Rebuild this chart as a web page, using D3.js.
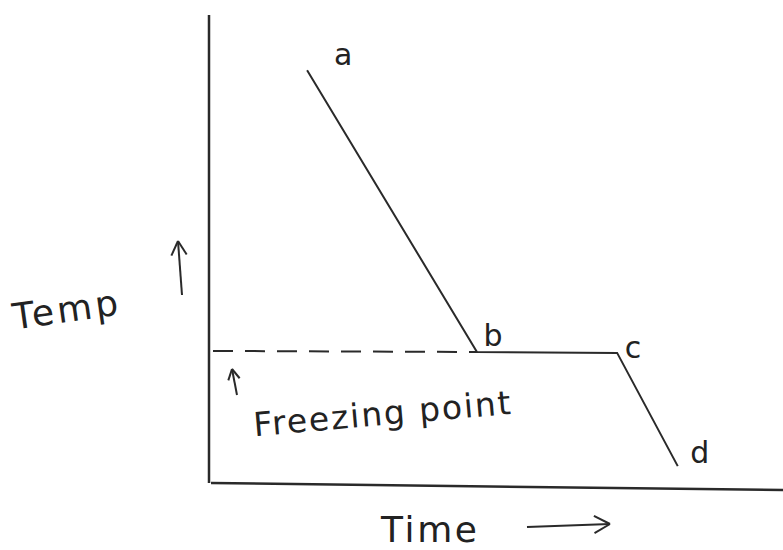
<!DOCTYPE html>
<html>
<head>
<meta charset="utf-8">
<script src="https://cdn.jsdelivr.net/npm/d3@7"></script>
<style>
  body { margin: 0; background: #fff; }
  text { font-family: "DejaVu Sans", sans-serif; fill: #222; }
</style>
</head>
<body>
<script>
var w = 783;
var h = 550;

// cooling curve: time (arbitrary units) vs temperature (arbitrary units)
var pointNames = ["a", "b", "c", "d"];
var times = [1.68, 4.65, 7.10, 8.16];
var temps = [8.82, 2.80, 2.78, 0.36];
var freezingPoint = 2.80;

var axisTitles = ["Time", "Temp"];
var noteText = "Freezing point";

//Scales
var xScale = d3.scaleLinear().domain([0, 10]).range([211, 783]);
var yScale = d3.scaleLinear().domain([0, 10]).range([483, 15]);

var svg = d3.select("body")
    .append("svg")
    .attr("width", w)
    .attr("height", h);

var ink = "#2a2a2a";

//axes (hand drawn, x axis drifts down a little)
svg.append("line")
    .attr("x1", xScale(0) - 2).attr("y1", yScale(10))
    .attr("x2", xScale(0) - 2).attr("y2", yScale(0))
    .attr("stroke", ink).attr("stroke-width", 2.5);

svg.append("line")
    .attr("x1", xScale(0)).attr("y1", yScale(0))
    .attr("x2", xScale(10)).attr("y2", yScale(-0.15))
    .attr("stroke", ink).attr("stroke-width", 2.5);

//freezing point guide
svg.append("line")
    .attr("x1", xScale(0) + 2).attr("y1", yScale(freezingPoint) - 1)
    .attr("x2", xScale(times[1])).attr("y2", yScale(freezingPoint))
    .attr("stroke", ink).attr("stroke-width", 2)
    .attr("stroke-dasharray", "20,12");

//curve
var line = d3.line()
    .x(function (d, i) { return xScale(times[i]); })
    .y(function (d, i) { return yScale(temps[i]); });

svg.append("path")
    .datum(pointNames)
    .attr("d", line)
    .attr("fill", "none")
    .attr("stroke", ink)
    .attr("stroke-width", 2);

//point labels
var labelOffsets = [[36, -14], [16, -14], [16, -3], [22, -12]];
svg.selectAll("text.pt")
    .data(pointNames)
    .enter()
    .append("text")
    .attr("class", "pt")
    .attr("x", function (d, i) { return xScale(times[i]) + labelOffsets[i][0]; })
    .attr("y", function (d, i) { return yScale(temps[i]) + labelOffsets[i][1]; })
    .attr("text-anchor", "middle")
    .attr("dominant-baseline", "middle")
    .attr("font-size", "30px")
    .text(function (d) { return d; });

//axis titles
svg.append("text")
    .attr("transform", "translate(67,322) rotate(-8)")
    .attr("text-anchor", "middle")
    .attr("font-size", "36px")
    .attr("textLength", 106)
    .text(axisTitles[1]);

svg.append("text")
    .attr("x", 429).attr("y", 542)
    .attr("text-anchor", "middle")
    .attr("font-size", "36px")
    .attr("textLength", 96)
    .text(axisTitles[0]);

svg.append("text")
    .attr("transform", "translate(383,425) rotate(-5)")
    .attr("text-anchor", "middle")
    .attr("font-size", "33px")
    .attr("textLength", 258)
    .text(noteText);

//arrows
function arrow(x1, y1, x2, y2, head) {
    svg.append("line")
        .attr("x1", x1).attr("y1", y1).attr("x2", x2).attr("y2", y2)
        .attr("stroke", ink).attr("stroke-width", 2);
    var ang = Math.atan2(y2 - y1, x2 - x1);
    [0.5, -0.5].forEach(function (s) {
        svg.append("line")
            .attr("x1", x2).attr("y1", y2)
            .attr("x2", x2 - head * Math.cos(ang + s))
            .attr("y2", y2 - head * Math.sin(ang + s))
            .attr("stroke", ink).attr("stroke-width", 2);
    });
}

arrow(182, 295, 178, 241, 16);
arrow(237, 395, 232, 369, 12);
arrow(527, 527, 610, 524, 18);
</script>
</body>
</html>
